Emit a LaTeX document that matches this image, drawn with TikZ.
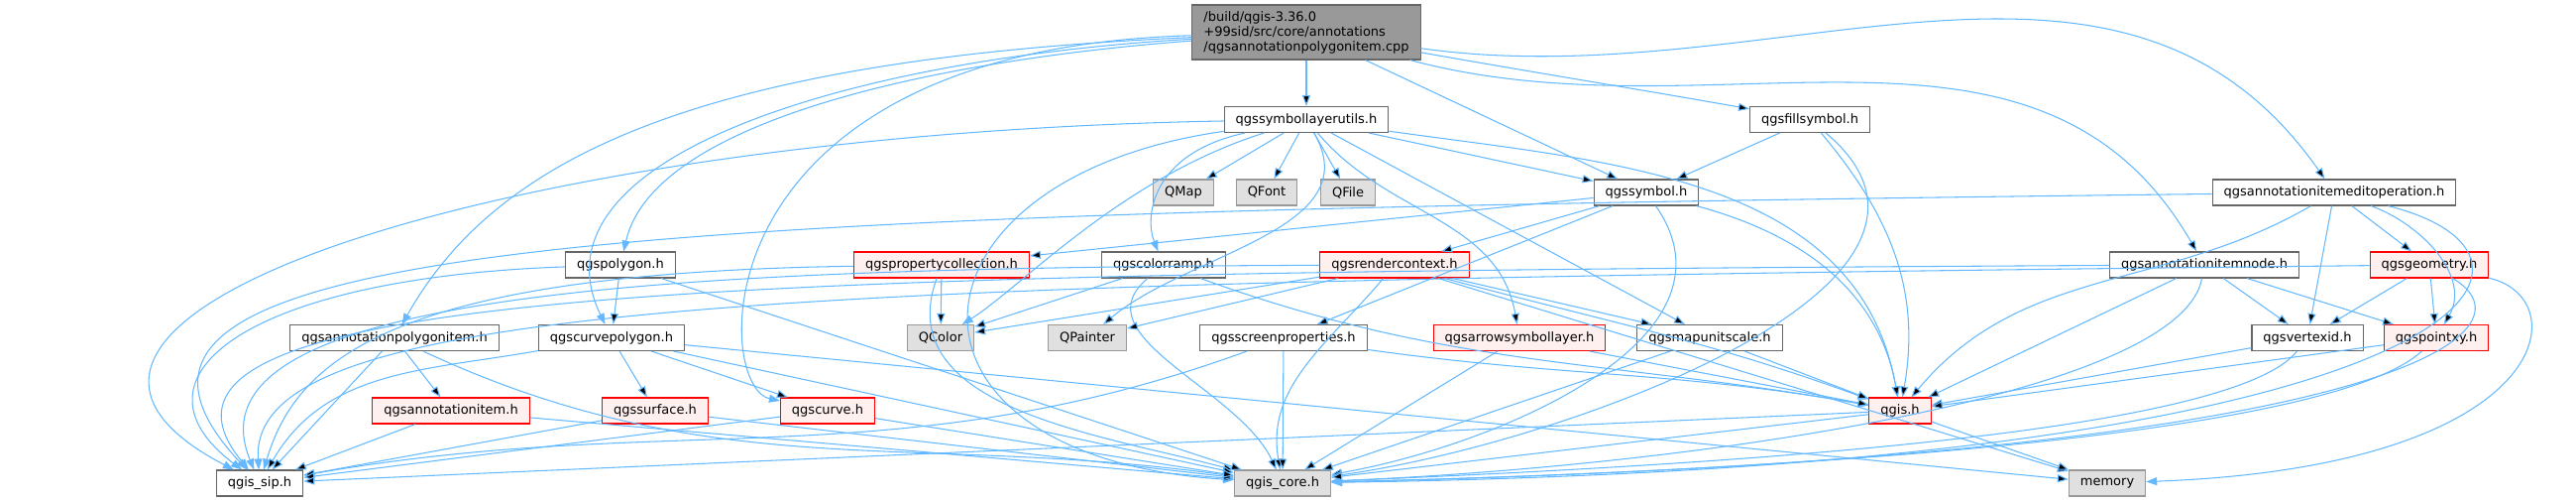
\documentclass[tikz,border=0pt]{standalone}
\usepackage{fontspec}
\setmainfont{DejaVu Sans}
\usetikzlibrary{arrows.meta}

\definecolor{edgeblue}{HTML}{63B8FF}
\definecolor{boxline}{HTML}{666666}
\definecolor{rootfill}{HTML}{999999}
\definecolor{extline}{HTML}{999999}
\definecolor{extfill}{HTML}{E0E0E0}
\definecolor{truncfill}{HTML}{FFF0F0}

\tikzset{
  file/.style={draw=boxline, fill=white, line width=0.3pt, inner xsep=0.115cm, inner ysep=0pt,
    minimum height=0.26cm, font=\fontsize{3.7}{4.27}\selectfont},
  trunc/.style={file, draw=red, fill=truncfill},
  ext/.style={file, draw=extline, fill=extfill},
  root/.style={file, fill=rootfill, align=left, minimum height=0.55cm},
  dep/.style={draw=edgeblue, line width=0.3pt, -{Triangle[length=0.11cm,width=0.08cm]}}
}

\begin{document}
\begin{tikzpicture}
    \useasboundingbox (0,0) rectangle (25.99,-5.05);
    % files
    \node [root] (main) at (13.18, -0.325) {/build/qgis-3.36.0\\+99sid/src/core/annotations\\/qgsannotationpolygonitem.cpp};
    \node [file] (utils) at (13.18, -1.205) {qgssymbollayerutils.h};
    \node [file] (fillsym) at (18.26, -1.205) {qgsfillsymbol.h};
    \node [ext] (QMap) at (11.94, -1.94) {QMap};
    \node [ext] (QFont) at (12.78, -1.94) {QFont};
    \node [ext] (QFile) at (13.60, -1.94) {QFile};
    \node [file] (symbol) at (16.61, -1.94) {qgssymbol.h};
    \node [file] (editop) at (23.55, -1.94) {qgsannotationitemeditoperation.h};
    \node [file] (polygon) at (6.26, -2.67) {qgspolygon.h};
    \node [trunc] (propcoll) at (9.50, -2.67) {qgspropertycollection.h};
    \node [file] (colorramp) at (11.74, -2.67) {qgscolorramp.h};
    \node [trunc] (rendercontext) at (14.07, -2.67) {qgsrendercontext.h};
    \node [file] (itemnode) at (22.24, -2.67) {qgsannotationitemnode.h};
    \node [trunc] (geometry) at (24.51, -2.67) {qgsgeometry.h};
    \node [file] (polyitem) at (3.98, -3.405) {qgsannotationpolygonitem.h};
    \node [file] (curvepoly) at (6.17, -3.405) {qgscurvepolygon.h};
    \node [ext] (QColor) at (9.49, -3.405) {QColor};
    \node [ext] (QPainter) at (10.97, -3.405) {QPainter};
    \node [file] (screenprops) at (12.95, -3.405) {qgsscreenproperties.h};
    \node [trunc] (arrowsym) at (15.33, -3.405) {qgsarrowsymbollayer.h};
    \node [file] (mapunit) at (17.25, -3.405) {qgsmapunitscale.h};
    \node [file] (vertexid) at (23.28, -3.405) {qgsvertexid.h};
    \node [trunc] (pointxy) at (24.58, -3.405) {qgspointxy.h};
    \node [trunc] (annitem) at (4.55, -4.14) {qgsannotationitem.h};
    \node [trunc] (surface) at (6.61, -4.14) {qgssurface.h};
    \node [trunc] (curve) at (8.35, -4.14) {qgscurve.h};
    \node [trunc] (qgis) at (19.17, -4.14) {qgis.h};
    \node [file] (sip) at (2.62, -4.87) {qgis\_sip.h};
    \node [ext] (core) at (12.94, -4.87) {qgis\_core.h};
    \node [ext] (memory) at (21.26, -4.87) {memory};
    % main file
    \path [dep] (main) edge (utils);
    \path [dep] (main) edge (symbol);
    \path [dep] (main) edge [out=-10,in=170] (fillsym);
    \path [dep] (main) edge [out=-8,in=125] (editop);
    \path [dep] (main) edge [out=-15,in=120] (itemnode);
    \draw [dep] (main) .. controls (9.5,-0.6) and (6.6,-1.2) .. (polygon);
    \draw [dep] (main) .. controls (8.5,-0.6) and (5.3,-1.6) .. (curvepoly);
    \draw [dep] (main) .. controls (7.0,-0.6) and (5.0,-1.6) .. (polyitem);
    \draw [dep] (main) .. controls (7.0,-0.5) and (7.2,-3.9) .. (curve);
    % qgssymbollayerutils.h
    \path [dep] (utils) edge (QMap);
    \path [dep] (utils) edge (QFont);
    \path [dep] (utils) edge (QFile);
    \path [dep] (utils) edge (symbol);
    \path [dep] (utils) edge (mapunit);
    \draw [dep] (utils) .. controls (11.6,-1.55) and (11.55,-2.2) .. (colorramp);
    \draw [dep] (utils) .. controls (11.3,-1.8) and (10.3,-2.9) .. (QColor);
    \path [dep] (utils) edge [out=-60,in=40] (QPainter);
    \path [dep] (utils) edge [out=-50,in=100] (arrowsym);
    \path [dep] (utils) edge [out=-8,in=100] (qgis);
    \draw [dep] (utils) .. controls (5.0,-1.35) and (-0.6,-3.2) .. (sip);
    \draw [dep] (utils) .. controls (9.0,-1.8) and (8.8,-4.6) .. (core);
    % qgssymbol.h
    \path [dep] (symbol) edge (propcoll);
    \path [dep] (symbol) edge (rendercontext);
    \path [dep] (symbol) edge (screenprops);
    \path [dep] (symbol) edge [out=-15,in=100] (qgis);
    \path [dep] (symbol) edge [out=-55,in=10] (core);
    % qgsfillsymbol.h
    \path [dep] (fillsym) edge (symbol);
    \path [dep] (fillsym) edge [out=-50,in=80] (qgis);
    \path [dep] (fillsym) edge [out=-40,in=8] (core);
    % qgsannotationitemeditoperation.h
    \draw [dep] (editop) .. controls (6.0,-2.15) and (0.3,-2.4) .. (sip);
    \path [dep] (editop) edge [out=-150,in=50] (qgis);
    \path [dep] (editop) edge (vertexid);
    \path [dep] (editop) edge (geometry);
    \path [dep] (editop) edge [out=-20,in=60] (pointxy);
    \draw [dep] (editop) .. controls (26.2,-2.6) and (25.0,-4.7) .. (core);
    % qgsannotationitemnode.h
    \draw [dep] (itemnode) .. controls (7.0,-2.75) and (1.0,-2.9) .. (sip);
    \path [dep] (itemnode) edge (qgis);
    \draw [dep] (itemnode) .. controls (22.0,-4.0) and (17.0,-4.7) .. (core);
    \path [dep] (itemnode) edge (vertexid);
    \path [dep] (itemnode) edge (pointxy);
    % qgsgeometry.h
    \draw [dep] (geometry) .. controls (8.0,-2.85) and (2.5,-3.0) .. (sip);
    \path [dep] (geometry) edge (vertexid);
    \path [dep] (geometry) edge (pointxy);
    \draw [dep] (geometry) .. controls (25.6,-3.3) and (24.5,-4.6) .. (core);
    \draw [dep] (geometry) .. controls (26.0,-3.0) and (25.8,-4.7) .. (memory);
    % qgspropertycollection.h, qgscolorramp.h
    \path [dep] (propcoll) edge (QColor);
    \draw [dep] (propcoll) .. controls (4.0,-2.75) and (3.0,-3.6) .. (sip);
    \path [dep] (propcoll) edge [out=-110,in=165] (core);
    \path [dep] (colorramp) edge (QColor);
    \path [dep] (colorramp) edge [out=-140,in=115] (core);
    \path [dep] (colorramp) edge [out=-20,in=170] (qgis);
    % qgsrendercontext.h
    \draw [dep] (rendercontext) .. controls (7.0,-2.7) and (1.8,-2.9) .. (sip);
    \path [dep] (rendercontext) edge (QColor);
    \path [dep] (rendercontext) edge (QPainter);
    \path [dep] (rendercontext) edge [out=-130,in=100] (core);
    \path [dep] (rendercontext) edge (mapunit);
    \path [dep] (rendercontext) edge (memory);
    \path [dep] (rendercontext) edge [out=-15,in=160] (qgis);
    % third row
    \path [dep] (screenprops) edge [out=200,in=10] (sip);
    \path [dep] (screenprops) edge (core);
    \path [dep] (screenprops) edge [out=-8,in=170] (qgis);
    \path [dep] (arrowsym) edge (core);
    \path [dep] (arrowsym) edge (qgis);
    \path [dep] (mapunit) edge (core);
    \path [dep] (mapunit) edge (qgis);
    \path [dep] (vertexid) edge (qgis);
    \draw [dep] (vertexid) .. controls (22.5,-4.4) and (17.0,-4.7) .. (core);
    \path [dep] (pointxy) edge (qgis);
    \draw [dep] (pointxy) .. controls (23.5,-4.4) and (18.0,-4.75) .. (core);
    % geometry classes
    \draw [dep] (polygon) .. controls (2.5,-2.8) and (1.2,-3.8) .. (sip);
    \path [dep] (polygon) edge (curvepoly);
    \path [dep] (polygon) edge (core);
    \path [dep] (curvepoly) edge [out=190,in=60] (sip);
    \path [dep] (curvepoly) edge (surface);
    \path [dep] (curvepoly) edge (curve);
    \path [dep] (curvepoly) edge (core);
    \path [dep] (curvepoly) edge (memory);
    \path [dep] (polyitem) edge (sip);
    \path [dep] (polyitem) edge (annitem);
    \path [dep] (polyitem) edge [out=-25,in=172] (core);
    \path [dep] (annitem) edge (sip);
    \path [dep] (annitem) edge (core);
    \path [dep] (surface) edge (sip);
    \path [dep] (surface) edge (core);
    \path [dep] (curve) edge (sip);
    \path [dep] (curve) edge (core);
    % qgis.h
    \path [dep] (qgis) edge (sip);
    \path [dep] (qgis) edge (core);
    \path [dep] (qgis) edge (memory);
\end{tikzpicture}
\end{document}
